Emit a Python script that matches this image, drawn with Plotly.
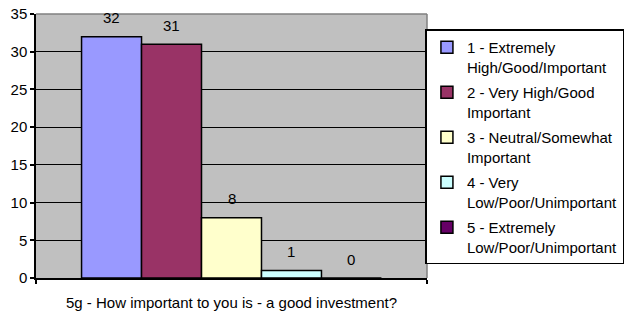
import plotly.graph_objects as go

category = ["5g - How important to you is - a good investment?"]
series_names = [
    "1 - Extremely<br>High/Good/Important",
    "2 - Very High/Good<br>Important",
    "3 - Neutral/Somewhat<br>Important",
    "4 - Very<br>Low/Poor/Unimportant",
    "5 - Extremely<br>Low/Poor/Unimportant",
]
values = [32, 31, 8, 1, 0]
colors = ["#9999FF", "#993366", "#FFFFCC", "#CCFFFF", "#660066"]

FONT = "Liberation Sans, Arial, sans-serif"
BARGAP = 0.233

fig = go.Figure()
for i, (name, v, c) in enumerate(zip(series_names, values, colors)):
    fig.add_trace(go.Bar(
        x=category, y=[v], name=name, legendgroup=f"g{i}",
        marker=dict(color=c, line=dict(color="black", width=1.5)),
    ))

n = len(values)
w = (1 - BARGAP) / n
for i, v in enumerate(values):
    fig.add_annotation(
        x=-(1 - BARGAP) / 2 + w * (i + 0.5), y=v, xref="x", yref="y",
        text=str(v), showarrow=False, yanchor="middle", yshift=19,
        font=dict(family=FONT, size=15, color="black"),
    )

# plot-area border (top and right) in gray
fig.add_shape(type="line", xref="paper", yref="paper", x0=0, x1=1, y0=1, y1=1,
              line=dict(color="#808080", width=1.5), layer="above")
fig.add_shape(type="line", xref="paper", yref="paper", x0=1, x1=1, y0=0, y1=1,
              line=dict(color="#808080", width=1.5), layer="above")

fig.update_layout(
    width=624, height=312,
    margin=dict(l=36, r=197, t=13.5, b=34, autoexpand=False),
    paper_bgcolor="white", plot_bgcolor="#C0C0C0",
    barmode="group", bargap=BARGAP, bargroupgap=0,
    font=dict(family=FONT, size=15, color="black"),
    showlegend=True,
    legend=dict(
        x=0.996, xanchor="left", y=0.9414, yanchor="top",
        bgcolor="white", bordercolor="black", borderwidth=1.5,
        font=dict(family=FONT, size=15, color="black"),
        tracegroupgap=3, itemwidth=30, valign="top",
    ),
    xaxis=dict(
        showline=True, linecolor="black", linewidth=2,
        ticks="outside", tickson="boundaries", ticklen=4, tickwidth=1.5, tickcolor="black",
        ticklabelstandoff=10,
        tickfont=dict(family=FONT, size=15, color="black"),
        showgrid=False,
    ),
    yaxis=dict(
        range=[0, 35], dtick=5, tick0=0,
        showline=True, linecolor="black", linewidth=1.5,
        ticks="outside", ticklen=4, tickwidth=1.5, tickcolor="black",
        showgrid=True, gridcolor="black", gridwidth=1.3,
        zeroline=False,
        tickfont=dict(family=FONT, size=15, color="black"),
    ),
)

fig.write_html("out.html", config={"displayModeBar": False},
               post_script="document.body.style.margin='0';")
